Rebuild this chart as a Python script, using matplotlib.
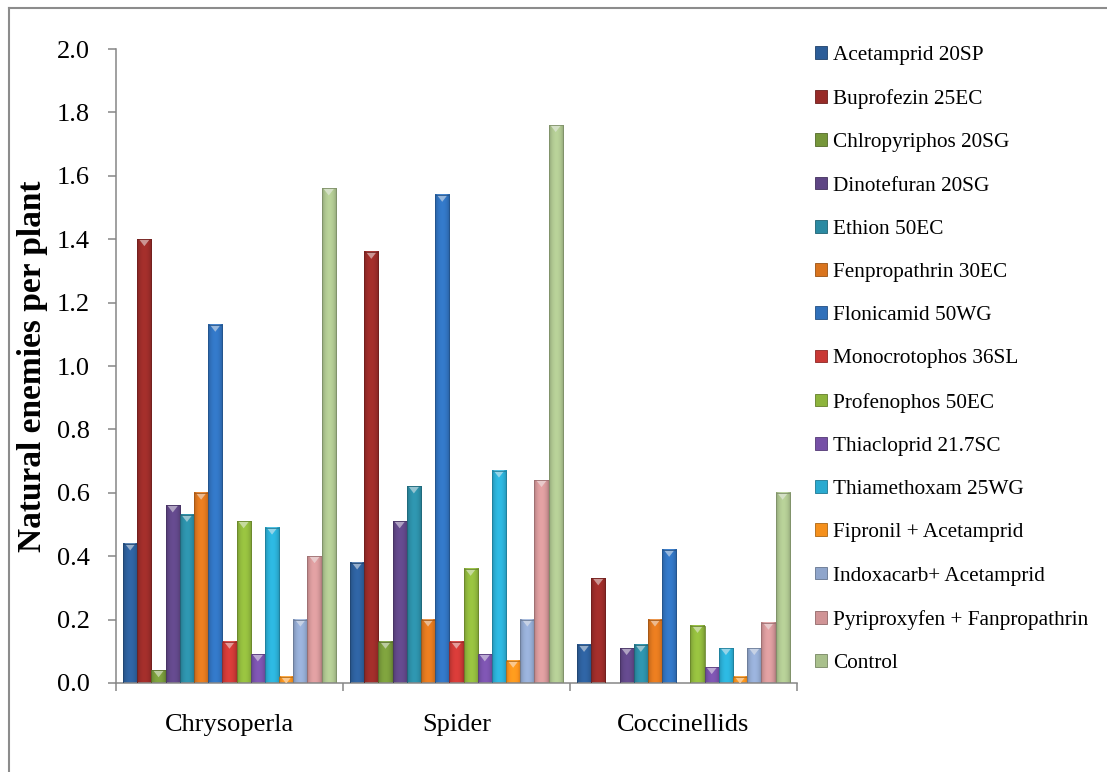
import numpy as np
import matplotlib
matplotlib.use("Agg")
import matplotlib.pyplot as plt
import matplotlib.colors as mcolors
import matplotlib.patches as mpatches
from matplotlib.lines import Line2D

# === Data: natural enemies per plant ===
groups = ["Chrysoperla", "Spider", "Coccinellids"]

treatments = [
    "Acetamprid 20SP", "Buprofezin 25EC", "Chlropyriphos 20SG", "Dinotefuran 20SG",
    "Ethion 50EC", "Fenpropathrin 30EC", "Flonicamid 50WG", "Monocrotophos 36SL",
    "Profenophos 50EC", "Thiacloprid 21.7SC", "Thiamethoxam 25WG",
    "Fipronil + Acetamprid", "Indoxacarb+ Acetamprid",
    "Pyriproxyfen + Fanpropathrin", "Control",
]

chrysoperla = [0.44, 1.40, 0.04, 0.56, 0.53, 0.60, 1.13, 0.13, 0.51, 0.09, 0.49, 0.02, 0.20, 0.40, 1.56]
spider = [0.38, 1.36, 0.13, 0.51, 0.62, 0.20, 1.54, 0.13, 0.36, 0.09, 0.67, 0.07, 0.20, 0.64, 1.76]
coccinellids = [0.12, 0.33, 0.00, 0.11, 0.12, 0.20, 0.42, 0.00, 0.18, 0.05, 0.11, 0.02, 0.11, 0.19, 0.60]

colors = [
    "#2C5D98", "#972B28", "#76973A", "#5E4584", "#2B8AA2", "#D9741E", "#3070BA",
    "#C93835", "#8DB43C", "#7650A6", "#2AAAD0", "#F5901C", "#8FA5CB", "#D09496",
    "#A9C08C",
]

values = np.array([chrysoperla, spider, coccinellids])  # (group, treatment)

plt.rcParams["font.family"] = ["Liberation Serif", "DejaVu Serif"]
AXIS_GRAY = "#868686"


def shade(color, n=40):
    # horizontal bevel: darker edges, lighter middle
    rgb = np.array(mcolors.to_rgb(color))
    t = np.linspace(0, 1, n)
    f = 0.80 + 0.30 * np.sin(np.pi * t) ** 0.6
    img = np.clip(rgb[None, :] * f[:, None], 0, 1)
    return img[None, :, :]


def lighten(color, amt):
    rgb = np.array(mcolors.to_rgb(color))
    return tuple(rgb + (1 - rgb) * amt)


def darken(color, amt):
    rgb = np.array(mcolors.to_rgb(color))
    return tuple(rgb * (1 - amt))


fig = plt.figure(figsize=(11.07, 7.72), dpi=100)
ax = fig.add_axes([0.1048, 0.1153, 0.615, 0.8212])

n_treat = len(treatments)
w = 1.0 / (n_treat + 1)
x_groups = np.arange(len(groups))

for i, (name, col) in enumerate(zip(treatments, colors)):
    xs = x_groups + (i - (n_treat - 1) / 2) * w
    bars = ax.bar(xs, values[:, i], width=w, facecolor="none",
                  edgecolor=darken(col, 0.25), linewidth=0.6, zorder=4)
    for b in bars:
        h = b.get_height()
        if h <= 0:
            continue
        x0, bw = b.get_x(), b.get_width()
        ax.imshow(shade(col), extent=[x0, x0 + bw, 0, h], aspect="auto",
                  interpolation="bilinear", zorder=2)
        tri = mpatches.Polygon([(x0 + 0.12 * bw, h), (x0 + 0.88 * bw, h),
                                (x0 + 0.5 * bw, h - 0.022)],
                               closed=True, facecolor=lighten(col, 0.5),
                               edgecolor="none", zorder=3)
        ax.add_patch(tri)

ax.set_xlim(-0.5, 2.5)
ax.set_ylim(0, 2.0)

# y axis
ax.set_yticks(np.arange(0, 2.01, 0.2))
ax.set_yticklabels([f"{v:.1f}" for v in np.arange(0, 2.01, 0.2)])
ax.tick_params(axis="y", direction="out", length=6, width=1.1, color=AXIS_GRAY,
               labelsize=19, pad=13)
ax.set_ylabel("Natural enemies per plant", fontsize=24, fontweight="bold")
ax.yaxis.set_label_coords(-0.10, 0.5)

# x axis: boundary ticks, labels centred on groups
ax.set_xticks([-0.5, 0.5, 1.5, 2.5])
ax.set_xticklabels([])
ax.set_xticks(x_groups, minor=True)
ax.set_xticklabels(groups, minor=True)
ax.tick_params(axis="x", which="major", direction="out", length=6, width=1.1, color=AXIS_GRAY)
ax.tick_params(axis="x", which="minor", length=0, labelsize=19, pad=22)

for side in ["top", "right"]:
    ax.spines[side].set_visible(False)
for side in ["left", "bottom"]:
    ax.spines[side].set_color(AXIS_GRAY)
    ax.spines[side].set_linewidth(1.1)

# legend
handles = [mpatches.Patch(facecolor=c, edgecolor=darken(c, 0.3), linewidth=0.6) for c in colors]
fig.legend(handles, treatments, loc="upper left", bbox_to_anchor=(815 / 1107, 1 - 46 / 772),
           frameon=False, fontsize=15.3, handlelength=0.55, handleheight=0.55,
           handletextpad=0.3, labelspacing=1.14, borderpad=0, borderaxespad=0)

# chart area border
fig.add_artist(Line2D([8.5 / 1107, 8.5 / 1107], [0, 1 - 7.5 / 772],
                      transform=fig.transFigure, color="#8C8C8C", linewidth=1.5))
fig.add_artist(Line2D([8.5 / 1107, 1], [1 - 7.5 / 772, 1 - 7.5 / 772],
                      transform=fig.transFigure, color="#8C8C8C", linewidth=1.5))

fig.savefig("out.png", dpi=100)
